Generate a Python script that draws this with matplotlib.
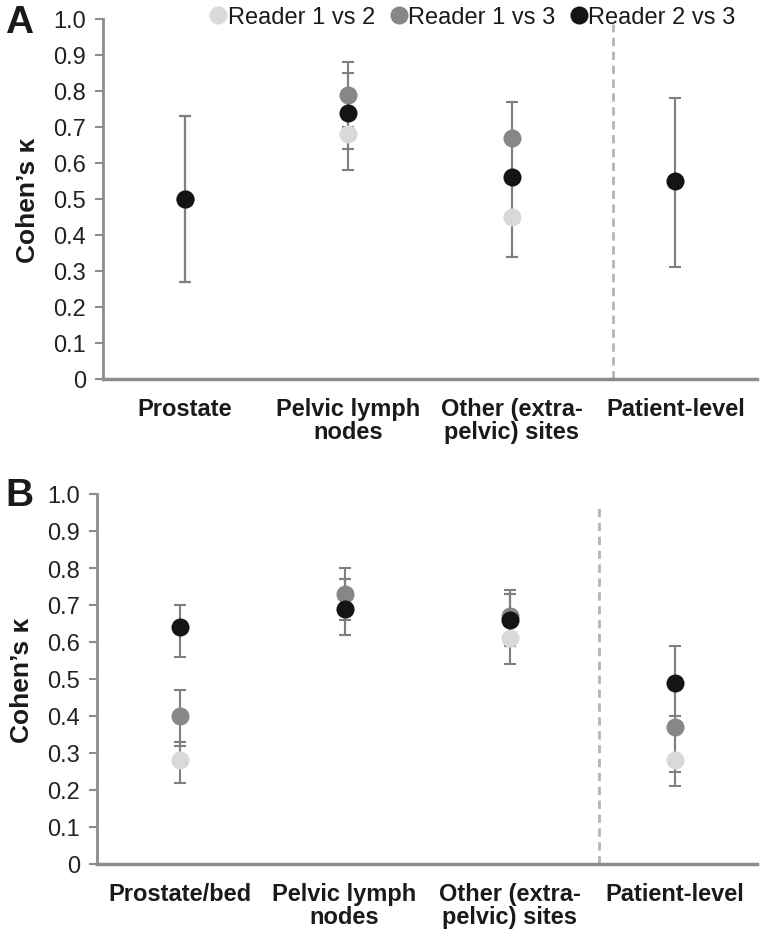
import numpy as np
import matplotlib
matplotlib.use("Agg")
import matplotlib.pyplot as plt
from matplotlib.lines import Line2D

plt.rcParams['font.family'] = ['Liberation Sans', 'DejaVu Sans']

series_names = ["Reader 1 vs 2", "Reader 1 vs 3", "Reader 2 vs 3"]
series_colors = ["#d9d9d9", "#878787", "#141414"]

# Panel A
cats_a = ["Prostate", "Pelvic lymph\nnodes", "Other (extra-\npelvic) sites", "Patient-level"]
a_r12 = [0.50, 0.68, 0.45, np.nan]
a_r12_lo = [0.27, 0.58, 0.34, np.nan]
a_r12_hi = [0.73, 0.78, 0.56, np.nan]
a_r13 = [0.50, 0.79, 0.67, np.nan]
a_r13_lo = [0.27, 0.70, 0.57, np.nan]
a_r13_hi = [0.73, 0.88, 0.77, np.nan]
a_r23 = [0.50, 0.74, 0.56, 0.55]
a_r23_lo = [0.27, 0.64, 0.34, 0.31]
a_r23_hi = [0.73, 0.85, 0.77, 0.78]

# Panel B
cats_b = ["Prostate/bed", "Pelvic lymph\nnodes", "Other (extra-\npelvic) sites", "Patient-level"]
b_r12 = [0.28, 0.69, 0.61, 0.28]
b_r12_lo = [0.22, 0.62, 0.54, 0.21]
b_r12_hi = [0.33, 0.77, 0.73, 0.37]
b_r13 = [0.40, 0.73, 0.67, 0.37]
b_r13_lo = [0.32, 0.66, 0.59, 0.25]
b_r13_hi = [0.47, 0.80, 0.74, 0.49]
b_r23 = [0.64, 0.69, 0.66, 0.49]
b_r23_lo = [0.56, 0.62, 0.59, 0.40]
b_r23_hi = [0.70, 0.77, 0.73, 0.59]

yticks = [0, 0.1, 0.2, 0.3, 0.4, 0.5, 0.6, 0.7, 0.8, 0.9, 1.0]
ytick_labels = ["0", "0.1", "0.2", "0.3", "0.4", "0.5", "0.6", "0.7", "0.8", "0.9", "1.0"]

W, H = 760, 937
fig = plt.figure(figsize=(W / 100, H / 100), dpi=100)

axA = fig.add_axes([103 / W, 1 - 380 / H, (757 - 103) / W, (380 - 20) / H])
axB = fig.add_axes([97 / W, 1 - 865 / H, (757 - 97) / W, (865 - 495) / H])

spine_col = "#8c8c8c"
err_col = "#7f7f7f"


def draw(ax, cats, data, divider_x, divider_top):
    x = np.arange(len(cats)) + 0.5
    for (vals, lo, hi), col in zip(data, series_colors):
        vals = np.array(vals, float)
        lo = np.array(lo, float)
        hi = np.array(hi, float)
        ax.errorbar(x, vals, yerr=[vals - lo, hi - vals], fmt='none', ecolor=err_col,
                    elinewidth=1.5, capsize=4, capthick=1.5, zorder=2, clip_on=False)
    for (vals, lo, hi), col in zip(data, series_colors):
        ax.plot(x, vals, 'o', color=col, markersize=13, markeredgewidth=0, zorder=3, clip_on=False)
    ax.axvline(divider_x, ymin=0, ymax=divider_top, color="#b4b4b4", lw=2,
               linestyle=(0, (3, 2)), zorder=1)
    ax.set_xlim(0, len(cats))
    ax.set_ylim(0, 1.0)
    ax.set_xticks(x)
    ax.set_xticklabels(cats, fontsize=17, fontweight='bold', linespacing=1.0, color="#1a1a1a")
    ax.set_yticks(yticks)
    ax.set_yticklabels(ytick_labels, fontsize=17, color="#222222")
    ax.tick_params(axis='x', length=0, pad=13)
    ax.tick_params(axis='y', length=6, width=1.5, color=spine_col, pad=6)
    for s in ['top', 'right']:
        ax.spines[s].set_visible(False)
    for s in ['left', 'bottom']:
        ax.spines[s].set_color(spine_col)
        ax.spines[s].set_linewidth(2.5 if s == 'bottom' else 2)
    ax.set_ylabel("Cohen\u2019s \u03ba", fontsize=19, fontweight='bold', labelpad=10, color="#1a1a1a")


draw(axA, cats_a, [(a_r12, a_r12_lo, a_r12_hi), (a_r13, a_r13_lo, a_r13_hi),
                   (a_r23, a_r23_lo, a_r23_hi)], 3.12, 0.985)
draw(axB, cats_b, [(b_r12, b_r12_lo, b_r12_hi), (b_r13, b_r13_lo, b_r13_hi),
                   (b_r23, b_r23_lo, b_r23_hi)], 3.04, 0.97)

handles = [Line2D([], [], marker='o', linestyle='none', color=c, markersize=13,
                  markeredgewidth=0) for c in series_colors]
fig.legend(handles, series_names, loc='center', bbox_to_anchor=(471 / W, 1 - 18 / H),
           ncol=3, frameon=False, fontsize=17, handletextpad=-0.1, columnspacing=0.5,
           handlelength=1.0, borderpad=0, borderaxespad=0, labelcolor="#1a1a1a")

fig.text(5 / W, 1 - 23 / H, "A", fontsize=28, fontweight='bold', va='center', ha='left', color="#1a1a1a")
fig.text(5 / W, 1 - 496 / H, "B", fontsize=28, fontweight='bold', va='center', ha='left', color="#1a1a1a")

fig.savefig("out.png", dpi=100)
